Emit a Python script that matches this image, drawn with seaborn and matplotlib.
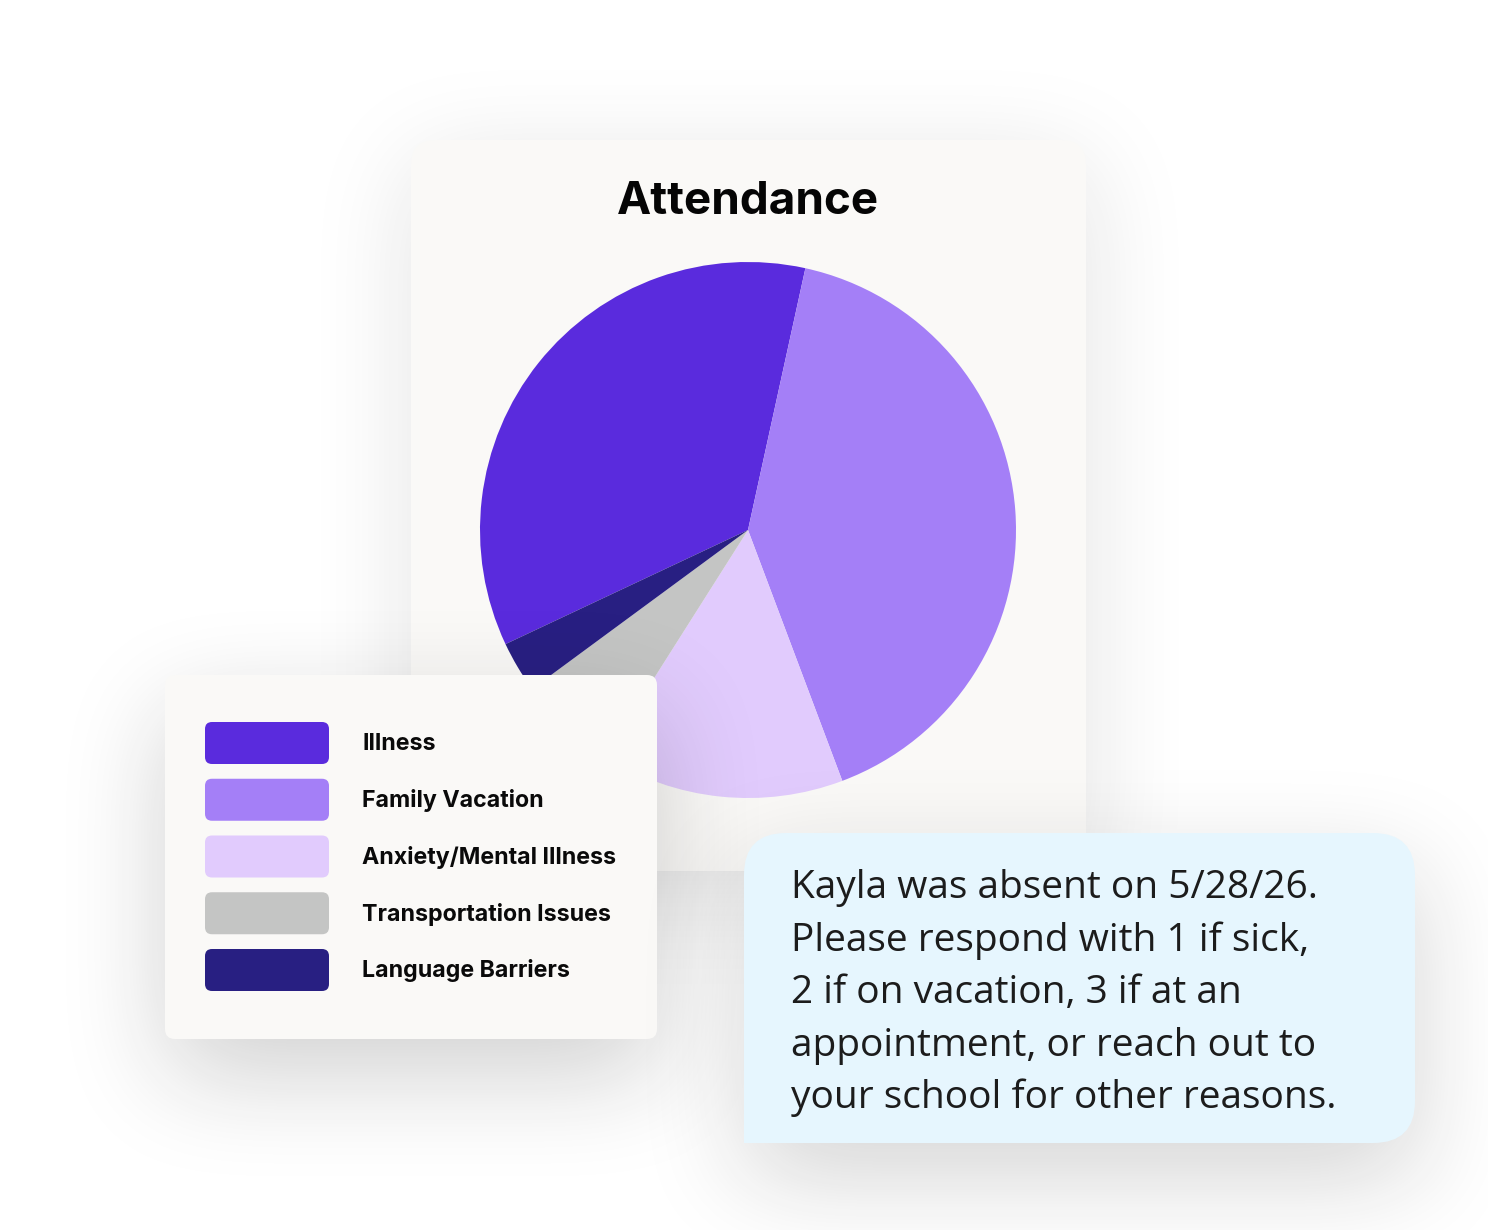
import numpy as np
import matplotlib
matplotlib.use("Agg")
import matplotlib.pyplot as plt
from matplotlib.patches import FancyBboxPatch, Rectangle
import seaborn as sns

# data
reasons = ['Illness', 'Family Vacation', 'Anxiety/Mental Illness',
           'Transportation Issues', 'Language Barriers']
shares = [35.4, 40.8, 14.7, 5.9, 3.1]
colors = ['#5A2BDD', '#A47FF7', '#E1CBFD', '#C4C5C4', '#281F82']
title = 'Attendance'
message = ['Kayla was absent on 5/28/26.',
           'Please respond with 1 if sick,',
           '2 if on vacation, 3 if at an',
           'appointment, or reach out to',
           'your school for other reasons.']

sns.set_theme(style="white")
plt.rcParams['font.family'] = ['Inter', 'DejaVu Sans']

W, H = 1488, 1230
fig = plt.figure(figsize=(W / 100, H / 100), dpi=100)
fig.patch.set_facecolor('white')

card_bg = '#FAF9F7'
bubble_bg = '#E6F6FE'


def box_blur(a, w, axis):
    pad = w // 2
    a = np.pad(a, [(pad, pad + 1) if i == axis else (0, 0) for i in range(2)])
    c = np.cumsum(a, axis=axis)
    c = np.insert(c, 0, 0, axis=axis)
    n = c.shape[axis]
    hi = np.take(c, np.arange(w, n - 1), axis=axis)
    lo = np.take(c, np.arange(0, n - 1 - w), axis=axis)
    return (hi - lo) / w


def shadow(ax, x0, y0, x1, y1, w=80, dy=30, strength=0.15):
    m = np.zeros((H, W))
    m[int(y0 + dy):int(y1 + dy), int(x0):int(x1)] = 1.0
    for _ in range(3):
        m = box_blur(m, w, 0)[:H, :]
        m = box_blur(m, w, 1)[:, :W]
    img = np.zeros((H, W, 4))
    img[..., :3] = 0.1
    img[..., 3] = np.clip(m, 0, 1) * strength
    ax.imshow(img, extent=(0, W, H, 0), interpolation='bilinear', zorder=0)


def pixel_axes(z):
    ax = fig.add_axes([0, 0, 1, 1], zorder=z)
    ax.set_xlim(0, W)
    ax.set_ylim(H, 0)
    ax.axis('off')
    ax.patch.set_alpha(0)
    return ax


# background layer: chart card
bg = pixel_axes(0)
shadow(bg, 411, 140, 1086, 871, w=100, dy=20, strength=0.12)
bg.add_patch(FancyBboxPatch((411, 140), 675, 731,
                            boxstyle="round,pad=0,rounding_size=24",
                            fc=card_bg, ec='none', zorder=1))
bg.text(748, 214, title, ha='center', va='baseline', fontsize=33,
        fontweight='bold', color='#050505', zorder=2)
bg.set_xlim(0, W)
bg.set_ylim(H, 0)

# pie
cx, cy, r = 748, 530, 268
pax = fig.add_axes([(cx - r) / W, (H - cy - r) / H, 2 * r / W, 2 * r / H], zorder=1)
pax.pie(shares, colors=colors, startangle=205.2, counterclock=False,
        radius=1, wedgeprops=dict(linewidth=0))
pax.set_xlim(-1, 1)
pax.set_ylim(-1, 1)
pax.set_aspect('equal')
pax.axis('off')

# overlay layer: legend card
ov = pixel_axes(2)
shadow(ov, 165, 675, 657, 1039, w=100, dy=35, strength=0.2)
ov.add_patch(FancyBboxPatch((165, 675), 492, 364,
                            boxstyle="round,pad=0,rounding_size=10",
                            fc=card_bg, ec='none', zorder=1))
row0, step = 743, 56.75
for i, (lab, col) in enumerate(zip(reasons, colors)):
    y = row0 + i * step
    ov.add_patch(FancyBboxPatch((205, y - 21), 124, 42,
                                boxstyle="round,pad=0,rounding_size=7",
                                fc=col, ec='none', zorder=2))
    ov.text(362, y + 1, lab, ha='left', va='center', fontsize=16.7,
            fontweight='bold', color='#0A0A0A', zorder=3)

# top layer: message bubble
ov2 = pixel_axes(3)
shadow(ov2, 744, 833, 1415, 1143, w=100, dy=35, strength=0.18)
ov2.add_patch(FancyBboxPatch((744, 833), 671, 310,
                             boxstyle="round,pad=0,rounding_size=42",
                             fc=bubble_bg, ec='none', zorder=1))
ov2.add_patch(Rectangle((744, 1080), 60, 63, fc=bubble_bg, ec='none', zorder=1))
for i, line in enumerate(message):
    ov2.text(791, 898 + i * 52.6, line, ha='left', va='baseline',
             fontsize=28, family=['Open Sans', 'DejaVu Sans'],
             color='#1C1C1C', zorder=3)

fig.savefig('out.png', dpi=100, facecolor='white')
